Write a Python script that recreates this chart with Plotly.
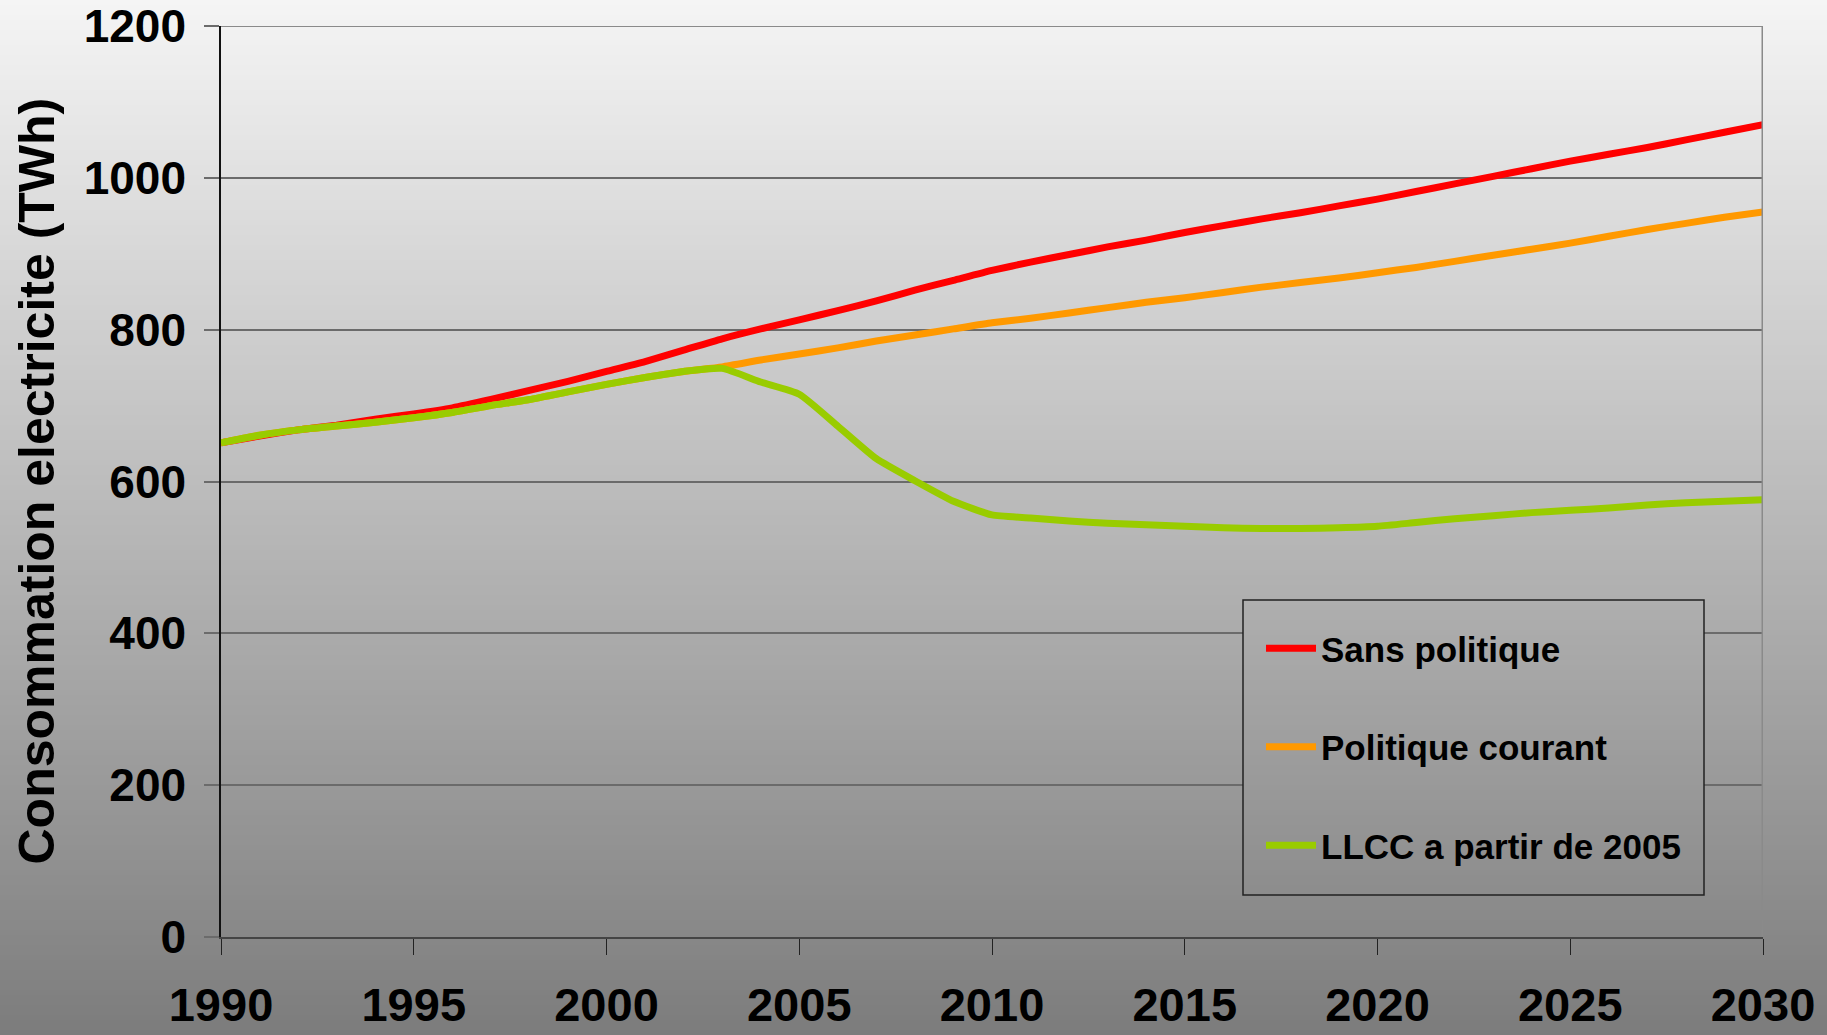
import plotly.graph_objects as go

# Electricity consumption scenarios (TWh), yearly values 1990-2030
years = list(range(1990, 2031))

sans_politique = [
    651, 660, 668, 674, 682, 689, 697, 708, 720, 732,
    745, 758, 773, 788, 801, 813, 825, 838, 852, 865,
    878, 889, 899, 909, 918, 928, 937, 946, 954, 963,
    972, 982, 992, 1002, 1012, 1022, 1031, 1040, 1050, 1060,
    1070,
]

politique_courant = [
    651, 661, 668, 673, 678, 684, 691, 700, 708, 718,
    728, 737, 745, 751, 760, 768, 776, 785, 793, 801,
    809, 815, 822, 829, 836, 842, 849, 856, 862, 868,
    875, 882, 890, 898, 906, 914, 923, 932, 940, 948,
    955,
]

llcc_2005 = [
    651, 661, 668, 673, 678, 684, 691, 700, 708, 718,
    728, 737, 745, 749, 731, 715, 673, 630, 601, 574,
    556, 552, 548, 545, 543, 541, 539, 538, 538, 539,
    541, 546, 551, 555, 559, 562, 565, 569, 572, 574,
    576,
]

series_names = ["Sans politique", "Politique courant", "LLCC a partir de 2005"]
series_values = [sans_politique, politique_courant, llcc_2005]
series_colors = ["#FF0000", "#FF9900", "#99CC00"]

x_ticks = [1990, 1995, 2000, 2005, 2010, 2015, 2020, 2025, 2030]
y_ticks = [0, 200, 400, 600, 800, 1000, 1200]

W, H = 1827, 1035
M_L, M_R, M_T, M_B = 221, 64, 26, 98
PLOT_W = W - M_L - M_R
PLOT_H = H - M_T - M_B

FONT = "Liberation Sans, Arial, sans-serif"


def px_to_paper_x(px):
    return (px - M_L) / PLOT_W


def py_to_paper_y(py):
    return (H - M_B - py) / PLOT_H


def grey_at(py):
    # page background runs from light grey at the top to mid grey at the bottom
    g = round(245 - 121 * py / H)
    return f"rgb({g},{g},{g})"


def gradient_bands(x0, x1, y0, y1, step, layer):
    bands = []
    y = y0
    while y < y1:
        y_next = min(y + step, y1)
        bands.append(dict(
            type="rect", xref="paper", yref="paper",
            x0=px_to_paper_x(x0), x1=px_to_paper_x(x1),
            y0=py_to_paper_y(y_next + 0.5), y1=py_to_paper_y(y),
            line=dict(width=0), fillcolor=grey_at((y + y_next) / 2), layer=layer,
        ))
        y = y_next
    return bands


fig = go.Figure()

for i, (name, vals, col) in enumerate(zip(series_names, series_values, series_colors)):
    fig.add_trace(go.Scatter(
        x=years, y=vals, name=name, mode="lines",
        line=dict(color=col, width=7, shape="spline", smoothing=0.5),
        legendgroup=f"g{i}",
    ))

# legend box, in pixels of the page
LB_X0, LB_X1, LB_Y0, LB_Y1 = 1243, 1704, 600, 895

shapes = []
shapes += gradient_bands(0, W, 0, H, 5, "below")
shapes += gradient_bands(LB_X0, LB_X1, LB_Y0, LB_Y1, 5, "above")
shapes += [
    # plot area frame on the right and top
    dict(type="line", xref="x", yref="y", x0=2030, x1=2030, y0=0, y1=1200,
         line=dict(color="#8a8a8a", width=3), layer="above"),
    dict(type="line", xref="x", yref="y", x0=1990, x1=2030, y0=1200, y1=1200,
         line=dict(color="#8a8a8a", width=2), layer="above"),
    # legend frame
    dict(type="rect", xref="paper", yref="paper",
         x0=px_to_paper_x(LB_X0), x1=px_to_paper_x(LB_X1),
         y0=py_to_paper_y(LB_Y1), y1=py_to_paper_y(LB_Y0),
         line=dict(color="#222222", width=1.5), fillcolor="rgba(0,0,0,0)", layer="above"),
]

fig.update_layout(
    width=W, height=H, autosize=False,
    margin=dict(l=M_L, r=M_R, t=M_T, b=M_B, pad=0),
    paper_bgcolor="#bdbdbd",
    plot_bgcolor="rgba(0,0,0,0)",
    shapes=shapes,
    showlegend=True,
    legend=dict(
        x=px_to_paper_x(LB_X0 + 18), y=py_to_paper_y(LB_Y0 + 19),
        xanchor="left", yanchor="top",
        bgcolor="rgba(0,0,0,0)", borderwidth=0,
        font=dict(family=FONT, size=35, color="black", weight="bold"),
        tracegroupgap=50, itemwidth=50,
    ),
    xaxis=dict(
        range=[1990, 2030], tickvals=x_ticks, ticktext=[str(v) for v in x_ticks],
        showgrid=False, zeroline=False, automargin=False,
        showline=True, linecolor="#444444", linewidth=2,
        ticks="outside", ticklen=16, tickwidth=1, tickcolor="#222222",
        tickfont=dict(family=FONT, size=47, color="black", weight="bold"),
        ticklabelstandoff=10,
    ),
    yaxis=dict(
        range=[0, 1200], tickvals=y_ticks,
        showgrid=True, gridcolor="#6b6b6b", gridwidth=1.5, zeroline=False,
        automargin=False,
        showline=True, linecolor="#111111", linewidth=1.5,
        ticks="outside", ticklen=15, tickwidth=1.5, tickcolor="#6b6b6b",
        tickfont=dict(family=FONT, size=46, color="black", weight="bold"),
        ticklabelstandoff=9,
    ),
    annotations=[
        dict(text="Consommation electricite (TWh)", xref="paper", yref="paper",
             x=px_to_paper_x(36), y=0.5, xanchor="center", yanchor="middle",
             textangle=-90, showarrow=False,
             font=dict(family=FONT, size=50, color="black", weight="bold")),
    ],
)

fig.write_html("out.html")
